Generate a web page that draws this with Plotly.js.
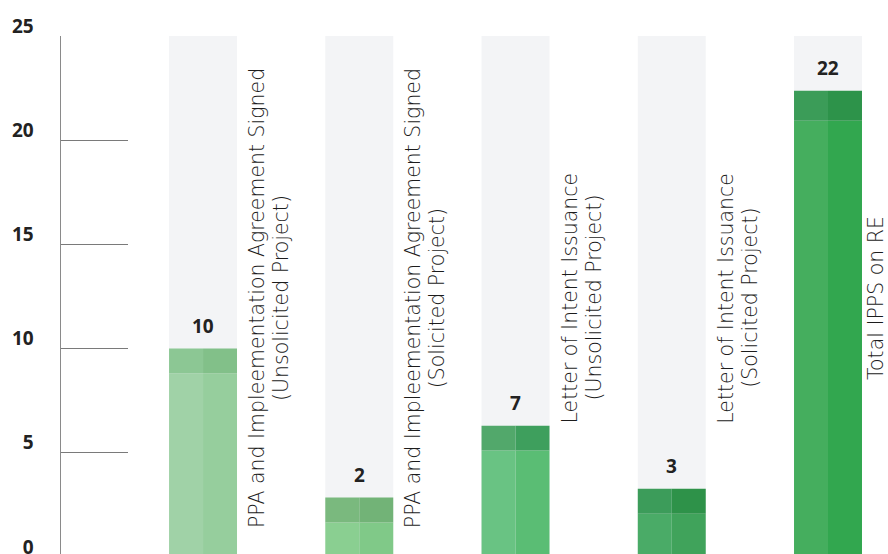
<!DOCTYPE html>
<html>
<head>
<meta charset="utf-8">
<script src="https://cdn.plot.ly/plotly-3.0.1.min.js"></script>
<style>
html,body{margin:0;padding:0;background:#fff;overflow:hidden;width:888px;height:554px;}
#chart{width:888px;height:560px;}
</style>
</head>
<body>
<div id="chart"></div>
<script>
// ---- data ----
var categoryLine1 = [
  "PPA and Impleementation Agreement Signed",
  "PPA and Impleementation Agreement Signed",
  "Letter of Intent Issuance",
  "Letter of Intent Issuance",
  "Total IPPS on RE"
];
var categoryLine2 = [
  "(Unsolicited Project)",
  "(Solicited Project)",
  "(Unsolicited Project)",
  "(Solicited Project)",
  ""
];
var barHeights = [10, 2.85, 6.3, 3.27, 22.37];   // drawn bar heights
var valueLabels = ["10", "2", "7", "3", "22"];   // printed values
var capBands = [1.18, 1.2, 1.19, 1.19, 1.44];    // darker top band
var axisMax = 25;
var yTicks = [0, 5, 10, 15, 20, 25];

// ---- styles ----
var bodyLeft  = ["#a0d2a7", "#8acf91", "#69c383", "#4aab67", "#45ae5e"];
var bodyRight = ["#96ce9d", "#80c988", "#5abd74", "#40a35b", "#32a74f"];
var capLeft   = ["#8cc794", "#7ab97e", "#52a86b", "#3c9c5a", "#3b9c58"];
var capRight  = ["#82c089", "#72b377", "#3e9f5d", "#2e9249", "#2d934a"];

var idx = barHeights.map(function(_, i){ return i; });
var W = 0.435, H = W / 2;
var bodyVals = barHeights.map(function(v, i){ return v - capBands[i]; });
var capBase = bodyVals.slice();
var labelMid = 12.43; // vertical centre of the category labels (axis units)

function bar(y, base, offset, width, colors){
  var t = {type:'bar', x: idx, y: y, offset: offset, width: width,
    marker:{color: colors, line:{width:0}}, hoverinfo:'skip', showlegend:false};
  if (base) t.base = base;
  return t;
}

var traces = [
  bar(idx.map(function(){ return axisMax; }), null, -H, W, "#f3f4f6"),
  bar(bodyVals, null, -H, H, bodyLeft),
  bar(bodyVals, null, 0, H, bodyRight),
  bar(capBands, capBase, -H, H, capLeft),
  bar(capBands, capBase, 0, H, capRight)
];

var labelFont = {family:"DejaVu Sans, sans-serif", size:20.5, color:"#1c1c1c", weight:300};
var annotations = [];
idx.forEach(function(i){
  annotations.push({x:i, y:barHeights[i], xref:'x', yref:'y', text:"<b>"+valueLabels[i]+"</b>",
    showarrow:false, yanchor:'middle', yshift:23,
    font:{family:"Open Sans, sans-serif", size:19, color:"#222222"}});
  if (categoryLine2[i]) {
    annotations.push({x:i, y:labelMid, xref:'x', yref:'y', text:categoryLine1[i], textangle:-90,
      showarrow:false, xanchor:'center', yanchor:'middle', xshift:54, font:labelFont});
    annotations.push({x:i, y:labelMid, xref:'x', yref:'y', text:categoryLine2[i], textangle:-90,
      showarrow:false, xanchor:'center', yanchor:'middle', xshift:78, font:labelFont});
  } else {
    annotations.push({x:i, y:labelMid, xref:'x', yref:'y', text:categoryLine1[i], textangle:-90,
      showarrow:false, xanchor:'center', yanchor:'middle', xshift:48, font:labelFont});
  }
});

var layout = {
  width: 888, height: 560,
  margin: {l:61, r:0, t:36, b:3, pad:0},
  paper_bgcolor:'#ffffff', plot_bgcolor:'#ffffff',
  barmode:'overlay',
  xaxis:{range:[-0.909, 4.384], visible:false, fixedrange:true},
  yaxis:{range:[0, axisMax], tickvals:yTicks, showgrid:false, zeroline:false,
    showline:true, linecolor:'#8a8a8a', linewidth:1.5,
    ticks:'inside', ticklen:67, tickwidth:1.3, tickcolor:'#7a7a7a',
    tickfont:{family:"Open Sans, sans-serif", size:19, color:"#222222", weight:700},
    ticklabelstandoff:22, ticklabelshift:-10, ticklabeloverflow:'allow', fixedrange:true},
  annotations: annotations
};

Plotly.newPlot('chart', traces, layout, {displayModeBar:false, staticPlot:true});
</script>
</body>
</html>
